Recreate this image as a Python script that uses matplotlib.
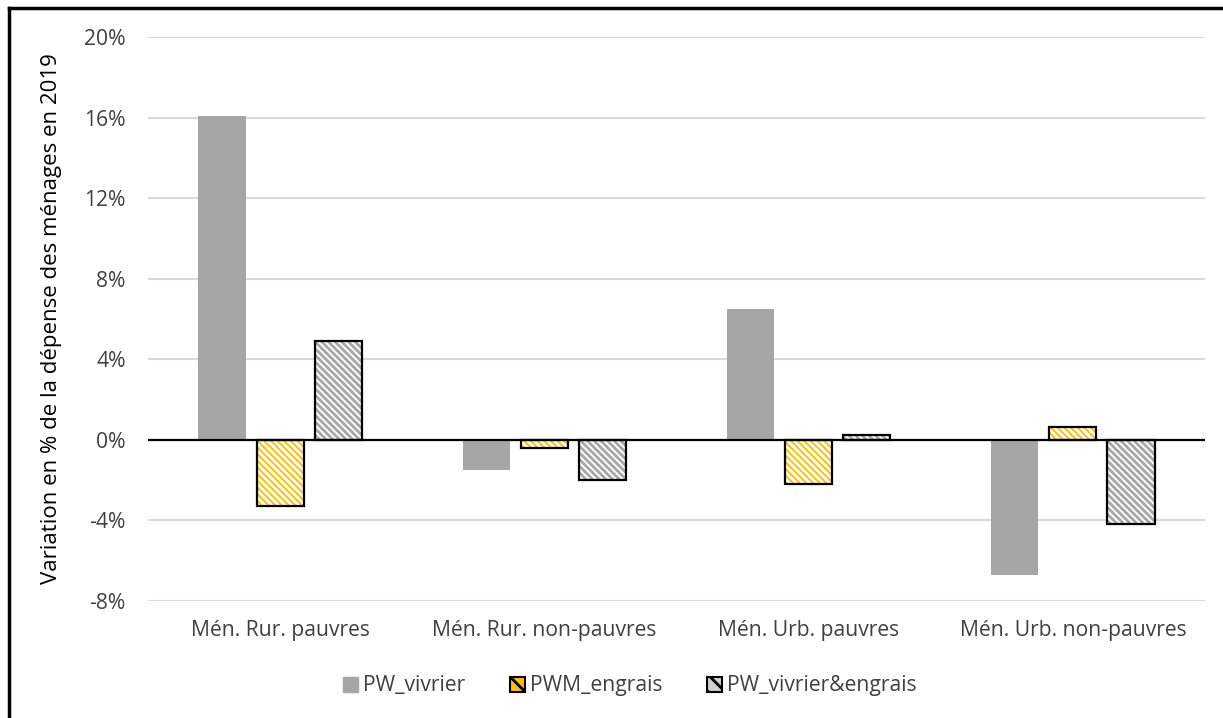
import matplotlib
matplotlib.use("Agg")
import matplotlib.pyplot as plt
import numpy as np
from matplotlib.patches import Patch
from matplotlib.lines import Line2D

plt.rcParams['font.family'] = ['Open Sans', 'DejaVu Sans']
plt.rcParams['hatch.linewidth'] = 2.0

categories = ["Mén. Rur. pauvres", "Mén. Rur. non-pauvres", "Mén. Urb. pauvres", "Mén. Urb. non-pauvres"]
pw_vivrier = [16.1, -1.5, 6.5, -6.7]
pwm_engrais = [-3.3, -0.4, -2.2, 0.65]
pw_vivrier_engrais = [4.9, -2.0, 0.25, -4.2]
yticks = [-8, -4, 0, 4, 8, 12, 16, 20]

fig = plt.figure(figsize=(12.23, 7.18), dpi=100)
ax = fig.add_axes([148/1223, 1-601/718, (1205-148)/1223, (601-37)/718])

x = np.arange(len(categories))
w = 0.178
pitch = 0.22
grey = '#A6A6A6'
yellow = '#FFC000'
hatch = '\\' * 5

ax.bar(x - pitch, pw_vivrier, w, color=grey, zorder=3)
# yellow hatched
ax.bar(x, pwm_engrais, w, facecolor=yellow, edgecolor='white', hatch=hatch, linewidth=0, zorder=3)
ax.bar(x, pwm_engrais, w, fill=False, edgecolor='black', linewidth=1.6, zorder=4)
# grey hatched
ax.bar(x + pitch, pw_vivrier_engrais, w, facecolor='white', edgecolor=grey, hatch=hatch, linewidth=0, zorder=3)
ax.bar(x + pitch, pw_vivrier_engrais, w, fill=False, edgecolor='black', linewidth=1.6, zorder=4)

fs = 15.2
ax.set_xlim(-0.5, 3.5)
ax.set_ylim(-8, 20)
ax.set_yticks(yticks)
ax.set_yticklabels([f"{t}%" for t in yticks], fontsize=fs, color='#404040')
ax.set_xticks(x)
ax.set_xticklabels(categories, fontsize=fs, color='#404040')
ax.tick_params(axis='y', length=0, pad=16)
ax.tick_params(axis='x', length=0, pad=14)
for s in ax.spines.values():
    s.set_visible(False)
ax.grid(axis='y', color='#D9D9D9', linewidth=1.5, zorder=0)
ax.axhline(0, color='black', linewidth=1.6, zorder=5)
ax.set_ylabel("Variation en % de la dépense des ménages en 2019", fontsize=16, color='black', labelpad=16)

handles = [Patch(facecolor=grey, edgecolor=grey),
           Patch(facecolor=yellow, edgecolor='black', hatch='\\\\', linewidth=1.5),
           Patch(facecolor='#D0D0D0', edgecolor='black', hatch='\\\\', linewidth=1.5)]
labels = ["PW_vivrier", "PWM_engrais", "PW_vivrier&engrais"]
leg = fig.legend(handles, labels, loc='center', bbox_to_anchor=(0.515, 1-686/718), ncol=3,
                 frameon=False, fontsize=fs, handlelength=0.7, handleheight=0.7,
                 handletextpad=0.25, columnspacing=2.1)
for t in leg.get_texts():
    t.set_color('#404040')

# figure border (left/top)
fig.add_artist(Line2D([9/1223, 9/1223], [0, 1-8/718], color='black', linewidth=2.5, transform=fig.transFigure))
fig.add_artist(Line2D([9/1223, 1], [1-8/718, 1-8/718], color='black', linewidth=2.5, transform=fig.transFigure))

fig.savefig("out.png", dpi=100)
